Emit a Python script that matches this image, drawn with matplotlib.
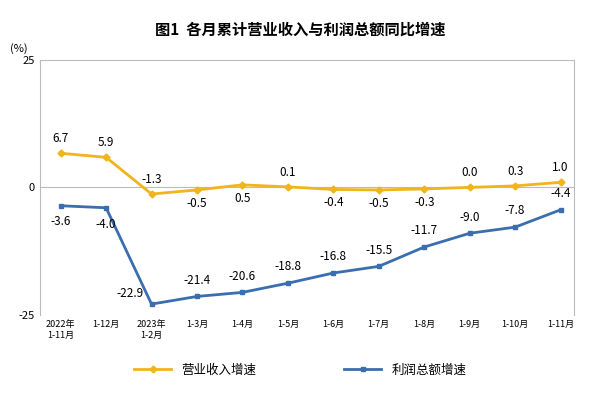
import matplotlib
matplotlib.use("Agg")
import matplotlib.pyplot as plt

plt.rcParams["font.family"] = ["Noto Sans CJK SC", "DejaVu Sans"]

categories = ["2022年\n1-11月", "1-12月", "2023年\n1-2月", "1-3月", "1-4月", "1-5月",
              "1-6月", "1-7月", "1-8月", "1-9月", "1-10月", "1-11月"]
revenue = [6.7, 5.9, -1.3, -0.5, 0.5, 0.1, -0.4, -0.5, -0.3, 0.0, 0.3, 1.0]
profit = [-3.6, -4.0, -22.9, -21.4, -20.6, -18.8, -16.8, -15.5, -11.7, -9.0, -7.8, -4.4]
rev_below = {3, 4, 6, 7, 8}

c_rev = "#F0B41C"
c_pro = "#3A6EAE"

fig = plt.figure(figsize=(6, 4), dpi=100)
ax = fig.add_axes([0.067, 0.213, 0.89, 0.637])
x = list(range(len(categories)))
ax.plot(x, revenue, color=c_rev, lw=2, marker="D", ms=3.5, label="营业收入增速")
ax.plot(x, profit, color=c_pro, lw=2, marker="s", ms=3.5, label="利润总额增速")

for i, v in enumerate(revenue):
    if i in rev_below:
        off, va = (0, -5), "top"
    else:
        off, va = (0, 6), "bottom"
    ax.annotate(f"{v:.1f}", (i, v), xytext=off, textcoords="offset points",
                ha="center", va=va, fontsize=8.5)
for i, v in enumerate(profit):
    if i < 2:
        off, va = (0, -7), "top"
    elif i == 2:
        off, va = (-6, 3), "bottom"
    else:
        off, va = (0, 7), "bottom"
    ax.annotate(f"{v:.1f}", (i, v), xytext=off, textcoords="offset points",
                ha="center" if i != 2 else "right", va=va, fontsize=8.5)

ax.set_ylim(-25, 25)
ax.set_xlim(-0.45, 11.3)
ax.set_yticks([-25, 0, 25])
ax.set_yticklabels(["-25", "0", "25"], fontsize=8)
ax.set_xticks(x)
ax.set_xticklabels(categories, fontsize=6.5)
ax.tick_params(length=0, pad=4)
ax.axhline(0, color="#bbbbbb", lw=0.8, zorder=0)
for s in ax.spines.values():
    s.set_color("#bbbbbb")
    s.set_linewidth(0.8)
ax.spines["bottom"].set_visible(False)
ax.text(-0.04, 1.03, "(%)", transform=ax.transAxes, fontsize=8, ha="center")

fig.suptitle("图1  各月累计营业收入与利润总额同比增速", fontsize=11, fontweight="bold", y=0.945)
fig.legend(loc="lower center", ncol=2, frameon=False, fontsize=9,
           bbox_to_anchor=(0.5, 0.03), columnspacing=7, handlelength=3)
fig.savefig("out.png", dpi=100)
